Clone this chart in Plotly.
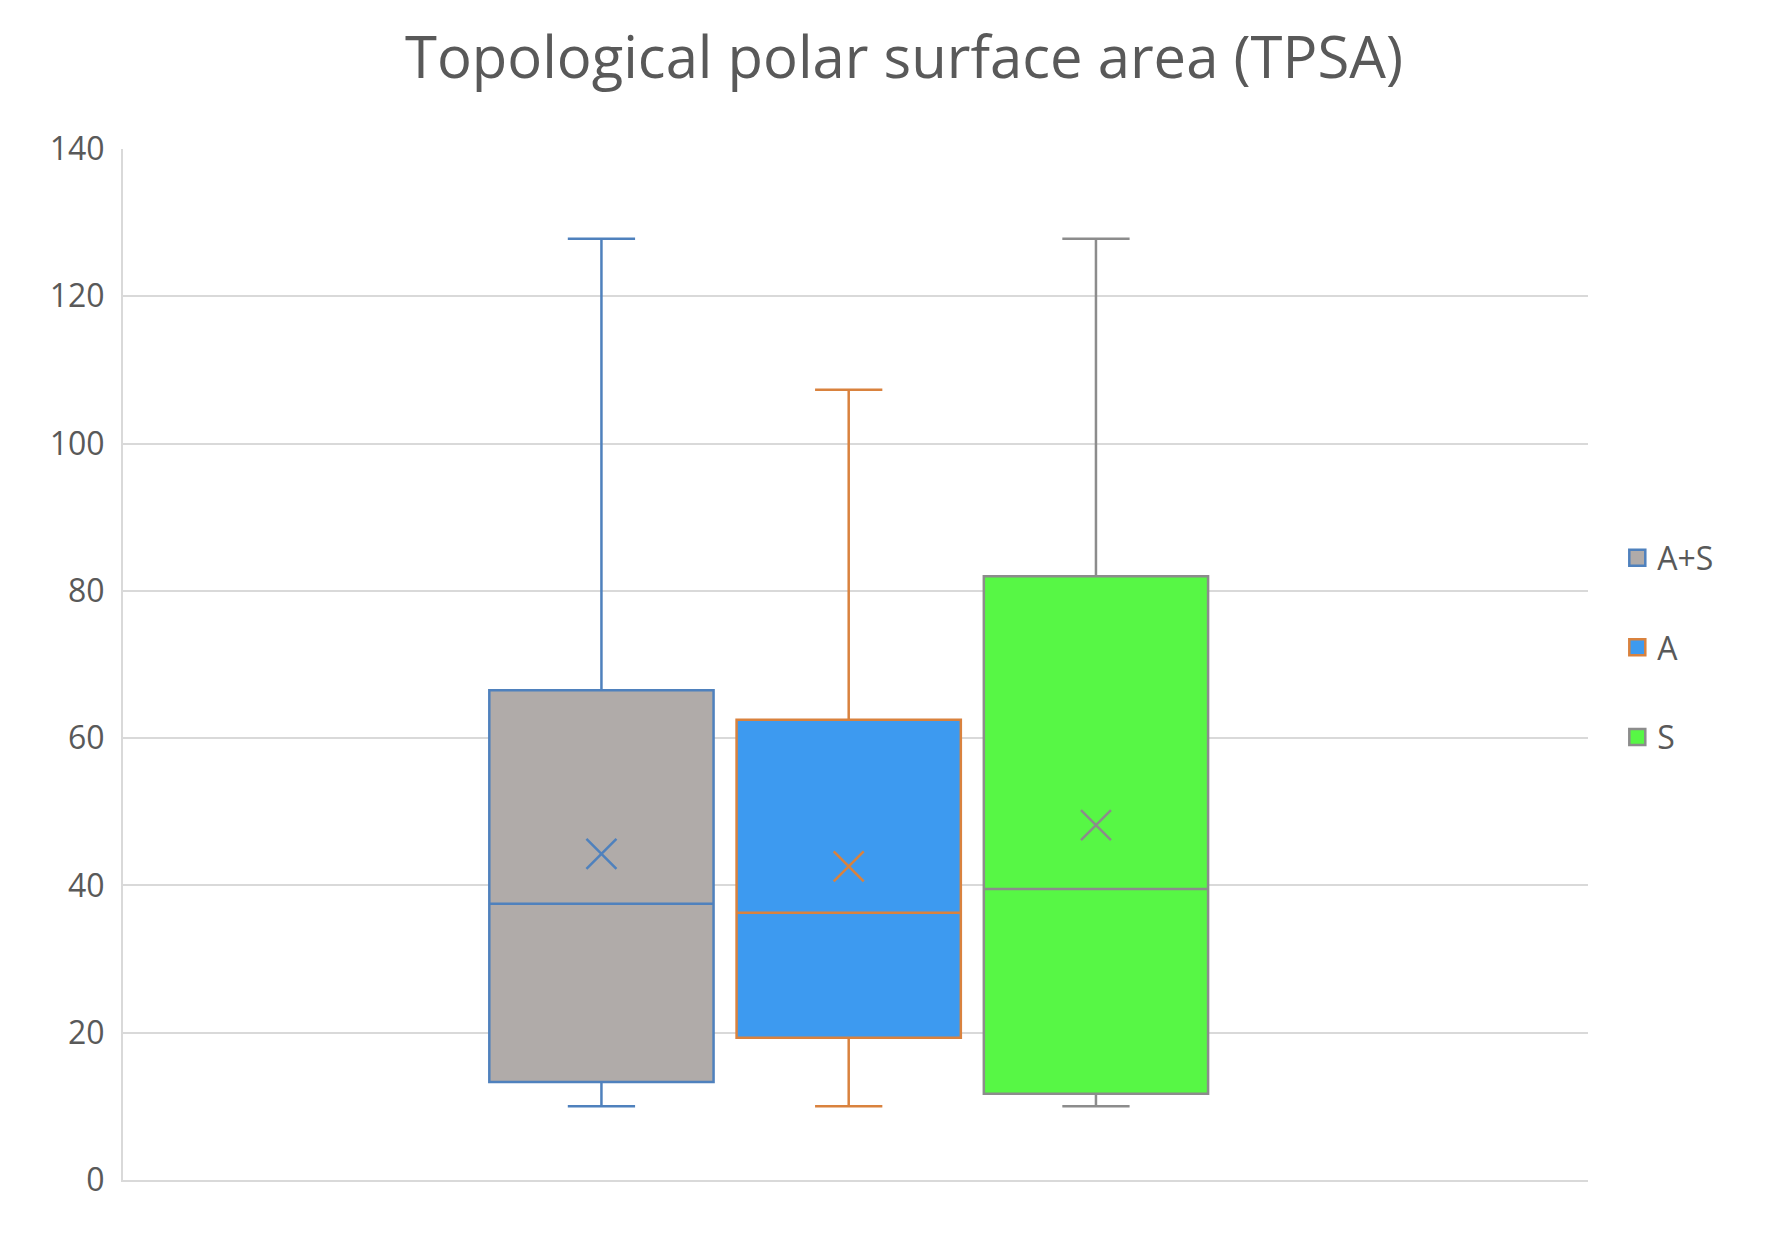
import plotly.graph_objects as go

names = ["A+S", "A", "S"]
lower = [10, 10, 10]
q1 = [13.3, 19.3, 11.7]
median = [37.5, 36.3, 39.5]
q3 = [66.5, 62.5, 82.0]
upper = [127.8, 107.3, 127.8]
means = [44.3, 42.6, 48.2]
fills = ["#b0aba9", "#3d9af0", "#57f745"]
lines = ["#4f81bd", "#d9823e", "#8c8c8c"]

fig = go.Figure()
for i, n in enumerate(names):
    fig.add_trace(go.Box(
        x=[i], q1=[q1[i]], median=[median[i]], q3=[q3[i]],
        lowerfence=[lower[i]], upperfence=[upper[i]], name=n, showlegend=False,
        fillcolor=fills[i], line=dict(color=lines[i], width=2.5),
        width=0.907, whiskerwidth=0.3))
    fig.add_trace(go.Scatter(
        x=[i], y=[means[i]], mode="markers", showlegend=False,
        marker=dict(symbol="x-thin", size=30, line=dict(color=lines[i], width=2.5))))
for i, n in enumerate(names):
    fig.add_trace(go.Scatter(
        x=[None], y=[None], mode="markers", name=n, legendgroup=n,
        marker=dict(symbol="square", size=32, color=fills[i],
                    line=dict(color=lines[i], width=2.5))))

fig.update_layout(
    width=1792, height=1236, paper_bgcolor="white", plot_bgcolor="white",
    font=dict(family="Open Sans", color="#595959", size=32),
    title=dict(text="Topological polar surface area (TPSA)", x=0.5, xanchor="center",
               y=0.96, yanchor="middle", font=dict(size=58)),
    margin=dict(l=115, r=212, t=141, b=64),
    legend=dict(x=1.02, y=0.63, xanchor="left", yanchor="top",
                tracegroupgap=45, traceorder="grouped", font=dict(size=32)),
    xaxis=dict(range=[-1.935, 3.99], showticklabels=False, showgrid=False,
               zeroline=False, showline=True, linecolor="#d9d9d9", linewidth=2),
    yaxis=dict(range=[0, 140], dtick=20, gridcolor="#d9d9d9", gridwidth=2,
               zeroline=False, showline=True, linecolor="#d9d9d9", linewidth=2,
               ticklabelstandoff=10),
)
fig.write_html("out.html")
